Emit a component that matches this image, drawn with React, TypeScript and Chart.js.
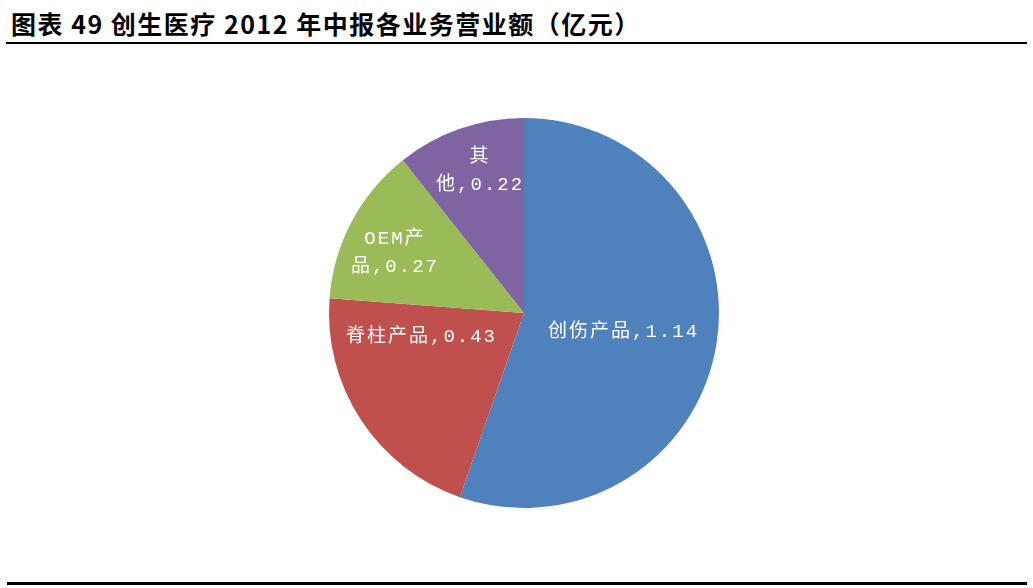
import React, { useEffect, useRef } from 'react';
import Chart from 'chart.js/auto';
import type { Chart as ChartJS, Plugin } from 'chart.js';

// 数据
const categories = ['创伤产品', '脊柱产品', 'OEM产品', '其他'];
const revenue = [1.14, 0.43, 0.27, 0.22];
// 标签换行方式（与原图一致）
const labelLines = [['创伤产品,1.14'], ['脊柱产品,0.43'], ['OEM产', '品,0.27'], ['其', '他,0.22']];

const colors = ['#4F81BD', '#C0504D', '#9BBB59', '#8064A2'];
// 标签位置：半径比例和角度偏移（度）
const labelRadius = [0.52, 0.54, 0.73, 0.76];
const labelShift = [1.4, 20, -3, 2];

const labelPlugin: Plugin<'pie'> = {
    id: 'sliceLabels',
    afterDatasetsDraw(chart: any) {
        const ctx = chart.ctx;
        const meta = chart.getDatasetMeta(0);
        ctx.save();
        ctx.font = "19px 'Liberation Mono', 'Noto Sans CJK SC'";
        ctx.fillStyle = '#FFFFFF';
        ctx.textAlign = 'center';
        ctx.textBaseline = 'middle';
        (ctx as any).letterSpacing = '2px';
        const lh = 28;
        meta.data.forEach((arc: any, i: number) => {
            const p = arc.getProps(['x', 'y', 'startAngle', 'endAngle', 'outerRadius'], true);
            const a = (p.startAngle + p.endAngle) / 2 + (labelShift[i] * Math.PI) / 180;
            const r = p.outerRadius * labelRadius[i];
            const cx = p.x + Math.cos(a) * r;
            const cy = p.y + Math.sin(a) * r;
            const lines = labelLines[i];
            lines.forEach((t, j) => {
                ctx.fillText(t, cx, cy + (j - (lines.length - 1) / 2) * lh);
            });
        });
        ctx.restore();
    }
};

const App: React.FC = () => {
    const canvasRef = useRef<HTMLCanvasElement | null>(null);
    const chartRef = useRef<ChartJS | null>(null);

    useEffect(() => {
        document.body.style.margin = '0';
        const ctx = canvasRef.current?.getContext('2d');
        if (!ctx) return;
        chartRef.current = new Chart(ctx, {
            type: 'pie',
            data: {
                labels: categories,
                datasets: [{ data: revenue, backgroundColor: colors, borderWidth: 0 }]
            },
            options: {
                animation: false,
                responsive: false,
                layout: { padding: { top: 118, bottom: 80, left: 329, right: 314 } },
                plugins: {
                    legend: { display: false },
                    tooltip: { enabled: false }
                }
            },
            plugins: [labelPlugin]
        });
        return () => {
            chartRef.current?.destroy();
            chartRef.current = null;
        };
    }, []);

    return (
        <div style={{ position: 'relative', width: 1033, height: 588, background: '#fff', overflow: 'hidden' }}>
            <div
                style={{
                    position: 'absolute', left: 11, top: 6,
                    fontFamily: "'Noto Sans CJK SC', sans-serif", fontWeight: 700, fontSize: 25,
                    letterSpacing: '1.5px', lineHeight: '34px', color: '#000', whiteSpace: 'nowrap'
                }}
            >
                图表 49 创生医疗 2012 年中报各业务营业额（亿元）
            </div>
            <div style={{ position: 'absolute', left: 6, top: 42, width: 1021, height: 2, background: '#000' }} />
            <div style={{ position: 'absolute', left: 7, top: 582, width: 1020, height: 3, background: '#000' }} />
            <canvas ref={canvasRef} width={1033} height={588} style={{ position: 'absolute', left: 0, top: 0 }} />
        </div>
    );
};

export default App;
